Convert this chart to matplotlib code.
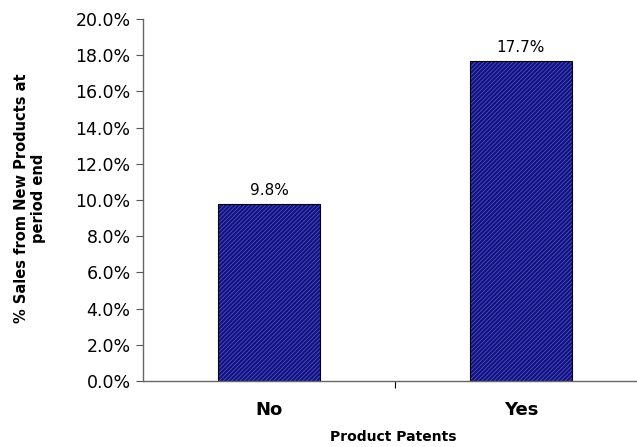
import matplotlib
matplotlib.use("Agg")
import matplotlib.pyplot as plt
from matplotlib.ticker import FuncFormatter

categories = ["No", "Yes"]
values = [9.8, 17.7]
yticks = [0, 2, 4, 6, 8, 10, 12, 14, 16, 18, 20]

plt.rcParams["font.family"] = ["DejaVu Sans"]
plt.rcParams["hatch.linewidth"] = 0.5

fig = plt.figure(figsize=(6.37, 4.47), dpi=100)
W, H = 637, 447
ax = fig.add_axes([143 / W, (H - 381) / H, (647 - 143) / W, (381 - 19) / H])

positions = [0.5, 1.5]
# hatched fill (hatch lines take the edge colour), then a black outline on top
ax.bar(positions, values, width=0.405, color="#12127e", edgecolor="#5a5ad2",
       linewidth=0, hatch="////////")
ax.bar(positions, values, width=0.405, fill=False, edgecolor="#000000",
       linewidth=0.8)

for x, v in zip(positions, values):
    ax.text(x, v + 0.3, f"{v:.1f}%", ha="center", va="bottom", fontsize=11)

ax.set_xlim(0, 2)
ax.set_ylim(0, 20)
ax.set_yticks(yticks)
ax.yaxis.set_major_formatter(FuncFormatter(lambda v, p: f"{v:.1f}%"))
ax.set_xticks([1])
ax.set_xticklabels([""])
ax.tick_params(axis="y", labelsize=12.5, length=5, width=0.8, color="#555555", pad=4)
ax.tick_params(axis="x", length=5, width=0.8, color="#000000")

for x, c in zip(positions, categories):
    ax.text(x, -1.6, c, ha="center", va="center", fontsize=13, fontweight="bold",
            transform=ax.transData)

for s in ["top", "right"]:
    ax.spines[s].set_visible(False)
for s in ["left", "bottom"]:
    ax.spines[s].set_color("#666666")
    ax.spines[s].set_linewidth(1.0)

fig.text(393 / W, 1 - 437 / H, "Product Patents", ha="center", va="center",
         fontsize=10, fontweight="bold")
fig.text(30 / W, 1 - 198 / H, "% Sales from New Products at\nperiod end",
         ha="center", va="center", rotation=90, fontsize=10.5, fontweight="bold",
         linespacing=1.15)

fig.savefig("out.png", dpi=100)
